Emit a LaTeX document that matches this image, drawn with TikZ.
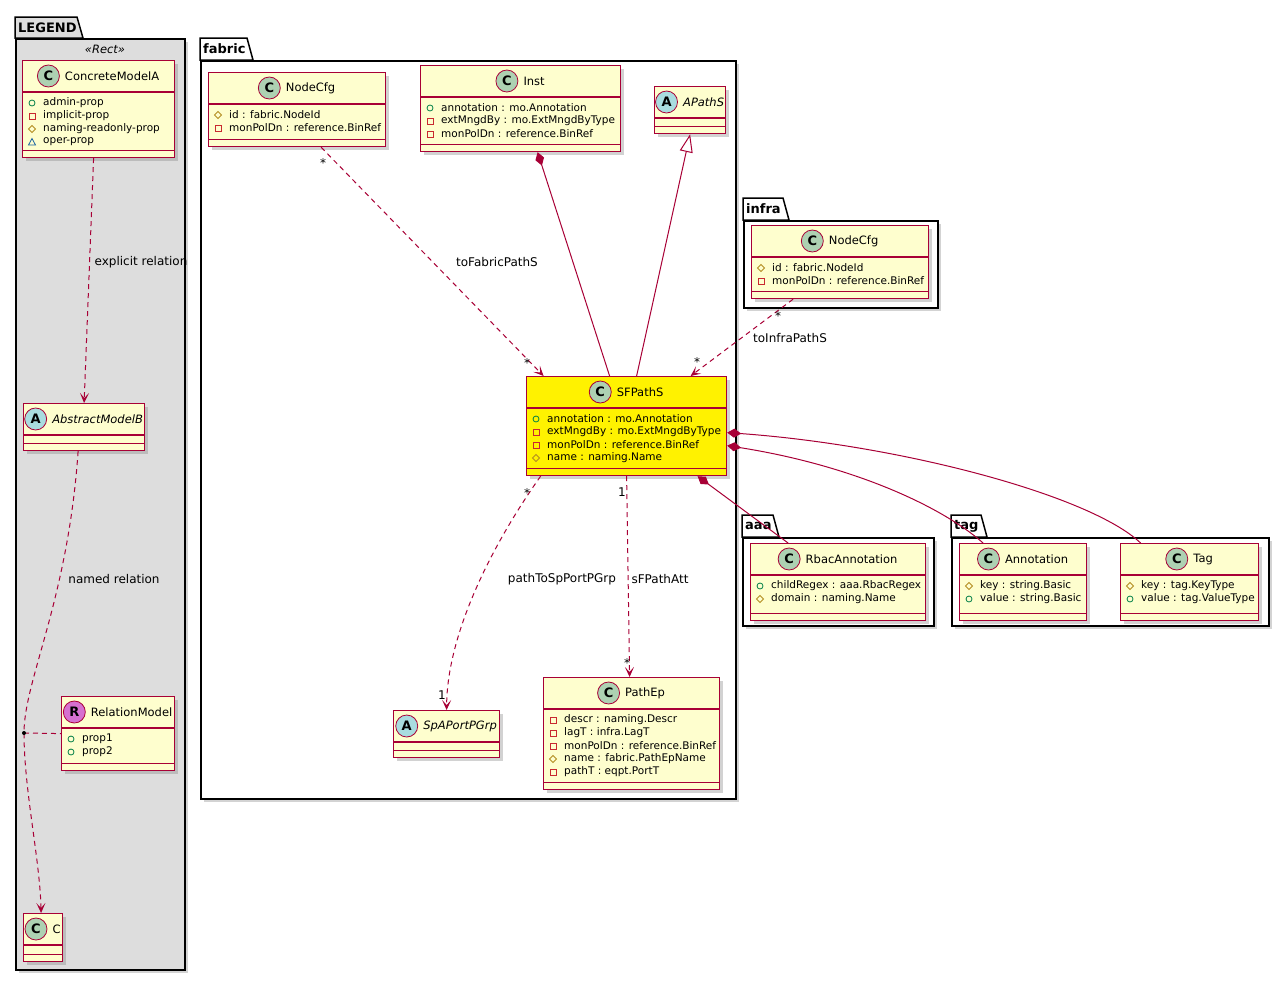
\documentclass[tikz,border=0pt]{standalone}
\usepackage{fontspec}
\setmainfont{DejaVu Sans}
\usetikzlibrary{arrows.meta}
\usetikzlibrary{shadows}
\usetikzlibrary{positioning}

\definecolor{umlred}{HTML}{A80036}
\definecolor{klassfill}{HTML}{FEFECE}
\definecolor{spotgreen}{HTML}{ADD1B2}
\definecolor{spotblue}{HTML}{A9DCDF}
\definecolor{spotpink}{HTML}{D670D0}
\definecolor{legendgray}{HTML}{DDDDDD}
\definecolor{pubcol}{HTML}{038048}
\definecolor{privcol}{HTML}{C82930}
\definecolor{protcol}{HTML}{B38D22}
\definecolor{pkgcol}{HTML}{1963A0}

% visibility marks
\newcommand\iconpub[1]{\draw[pubcol,line width=.8pt] (#1) circle (3pt);}
\newcommand\iconpriv[1]{\draw[privcol,line width=.8pt] ([shift={(-3pt,-3pt)}]#1) rectangle ([shift={(3pt,3pt)}]#1);}
\newcommand\iconprot[1]{\draw[protcol,line width=.8pt] ([xshift=-3.5pt]#1) -- ([yshift=3.5pt]#1) -- ([xshift=3.5pt]#1) -- ([yshift=-3.5pt]#1) -- cycle;}
\newcommand\iconpkg[1]{\draw[pkgcol,line width=.8pt] ([shift={(-3.5pt,-3pt)}]#1) -- ([yshift=3.5pt]#1) -- ([shift={(3.5pt,-3pt)}]#1) -- cycle;}

% class box: [opts]{name}{x}{y}{w}{h}{spot}{title}{attributes}
\newcommand\umlclass[9][]{%
  \node[klass,#1,minimum width=#5pt,minimum height=#6pt] (#2) at (#3,#4) {};
  \draw[klass line] ([yshift=-32pt]#2.north west) -- ([yshift=-32pt]#2.north east);
  \draw[klass line] ([yshift=8pt]#2.south west) -- ([yshift=8pt]#2.south east);
  \node[ktitle] (#2-t) at ([xshift=13.5pt,yshift=-16pt]#2.north) {#8};
  \node[spot,spot#7,left=5pt of #2-t] (#2-s) {#7};
  \foreach \vis/\txt [count=\row] in {#9}{
    \coordinate (#2-i\row) at ([xshift=10pt,yshift={-(30+13*\row)*1pt}]#2.north west);
    \ifcsname icon\vis\endcsname\csname icon\vis\endcsname{#2-i\row}\fi
    \node[attr] (#2-a\row) at ([xshift=21pt,yshift={-(30+13*\row)*1pt}]#2.north west) {\txt};
  }
}

% package: [opts]{name}{x}{tab top}{tab right}{body top}{x2}{y2}{label}
\newcommand\umlpkg[9][]{%
  \draw[pkg line,#1] (#3,#6) -- (#3,#4) -- (#5,#4) -- ({#5+6},#6) -- cycle;
  \node[pkg,#1,minimum width={(#7-#3)*1pt},minimum height={(#8-#6)*1pt}] (#2) at (#3,#6) {};
  \node[pkg label] (#2-l) at ({#3+3},{(#4+#6)/2}) {#9};
}

\begin{document}
\begin{tikzpicture}[x=1pt,y=-1pt]
\tikzstyle{klass}=[draw=umlred,line width=1.2pt,fill=klassfill,anchor=north west,inner sep=0pt,
  drop shadow={shadow xshift=3pt,shadow yshift=-3pt,opacity=.35}]
\tikzstyle{klass line}=[draw=umlred,line width=1.2pt]
\tikzstyle{ktitle}=[inner sep=0pt,font=\fontsize{11.5}{13}\selectfont]
\tikzstyle{spot}=[circle,draw=umlred,line width=.8pt,minimum size=22pt,inner sep=0pt,font=\bfseries\fontsize{13}{13}\selectfont]
\tikzstyle{spotC}=[fill=spotgreen]
\tikzstyle{spotA}=[fill=spotblue]
\tikzstyle{spotR}=[fill=spotpink]
\tikzstyle{attr}=[anchor=west,inner sep=0pt,font=\fontsize{10.5}{12}\selectfont]
\tikzstyle{pkg line}=[draw=black,line width=1.5pt,fill=white]
\tikzstyle{pkg}=[pkg line,anchor=north west,inner sep=0pt,drop shadow={shadow xshift=3pt,shadow yshift=-3pt,opacity=.35}]
\tikzstyle{pkg label}=[anchor=west,inner sep=0pt,font=\bfseries\fontsize{13}{14}\selectfont]
\tikzstyle{stereo}=[inner sep=0pt,font=\itshape\fontsize{11.5}{13}\selectfont]
\tikzstyle{dep}=[draw=umlred,line width=1pt,dash pattern=on 5pt off 4pt,-{Stealth[length=10pt,width=9pt,inset=5pt]}]
\tikzstyle{comp}=[draw=umlred,line width=1pt,{Diamond[length=14pt,width=9pt]}-]
\tikzstyle{inh}=[draw=umlred,line width=1pt,-{Triangle[open,length=18pt,width=13pt,fill=white]}]
\tikzstyle{lbl}=[inner sep=0pt,font=\fontsize{12}{14}\selectfont]
\tikzstyle{mult}=[lbl,anchor=base]

\useasboundingbox (0,0) rectangle (1287,980);

% packages
\umlpkg[fill=legendgray]{legend}{15}{17}{77}{38}{184}{969}{LEGEND}
\node[stereo] (legend-st) at (105,49) {«Rect»};
\umlpkg{fabric}{200}{38}{247}{60}{735}{798}{fabric}
\umlpkg{infra}{743}{198}{783}{220}{937}{307}{infra}
\umlpkg{aaa}{742}{515}{773}{537}{933}{625}{aaa}
\umlpkg{tag}{951}{515}{981}{537}{1268}{625}{tag}

% legend classes
\umlclass{cma}{22}{60}{152}{97}{C}{ConcreteModelA}{pub/admin-prop, priv/implicit-prop, prot/naming-readonly-prop, pkg/oper-prop}
\umlclass{amb}{23}{403}{121}{47}{A}{\itshape AbstractModelB}{}
\umlclass{relm}{61}{696}{113}{74}{R}{RelationModel}{pub/prop1, pub/prop2}
\umlclass{cc}{23}{913}{39}{48}{C}{C}{}

% fabric
\umlclass{cfgf}{208}{72}{177}{74}{C}{NodeCfg}{prot/id : fabric.NodeId, priv/monPolDn : reference.BinRef}
\umlclass{inst}{420}{65}{200}{86}{C}{Inst}{pub/annotation : mo.Annotation, priv/extMngdBy : mo.ExtMngdByType, priv/monPolDn : reference.BinRef}
\umlclass{aps}{654}{86}{71}{47}{A}{\itshape APathS}{}
\umlclass[fill=yellow]{sfp}{526}{376}{200}{99}{C}{SFPathS}{pub/annotation : mo.Annotation, priv/extMngdBy : mo.ExtMngdByType, priv/monPolDn : reference.BinRef, prot/name : naming.Name}
\umlclass{spg}{393}{710}{106}{47}{A}{\itshape SpAPortPGrp}{}
\umlclass{pep}{543}{677}{176}{112}{C}{PathEp}{priv/descr : naming.Descr, priv/lagT : infra.LagT, priv/monPolDn : reference.BinRef, prot/name : fabric.PathEpName, priv/pathT : eqpt.PortT}

% infra, aaa, tag
\umlclass{cfgi}{751}{225}{177}{73}{C}{NodeCfg}{prot/id : fabric.NodeId, priv/monPolDn : reference.BinRef}
\umlclass{rbac}{750}{543}{175}{77}{C}{RbacAnnotation}{pub/childRegex : aaa.RbacRegex, prot/domain : naming.Name}
\umlclass{annot}{959}{543}{127}{77}{C}{Annotation}{prot/key : string.Basic, pub/value : string.Basic}
\umlclass{tagc}{1120}{543}{138}{77}{C}{Tag}{prot/key : tag.KeyType, pub/value : tag.ValueType}

% legend relations
\coordinate (rdot) at (24,733);
\draw[dep] ([xshift=-5pt]cma.south) -- (amb.north);
\draw[dep] ([xshift=-6pt]amb.south) .. controls (68,600) and (24,680) .. (rdot) .. controls (24,790) and (40,860) .. ([xshift=-2pt]cc.north);
\draw[umlred,line width=1pt,dash pattern=on 5pt off 4pt] (rdot) -- (relm.west);
\fill (rdot) circle (2pt);

% relations
\draw[dep] ([xshift=24pt]cfgf.south) -- ([xshift=-83pt]sfp.north);
\draw[comp] ([xshift=17pt]inst.south) -- ([xshift=-17pt]sfp.north);
\draw[inh] ([xshift=10pt]sfp.north) -- (aps.south);
\draw[dep] ([xshift=-47pt]cfgi.south) -- ([xshift=64pt]sfp.north);
\draw[dep] ([xshift=-86pt]sfp.south) .. controls (485,555) and (447,640) .. (spg.north);
\draw[dep] (sfp.south) -- ([xshift=-2pt]pep.north);
\draw[comp] ([xshift=71pt]sfp.south) -- ([xshift=-50pt]rbac.north);
\draw[comp] ([yshift=-19.5pt]sfp.east) .. controls (850,465) and (940,505) .. ([xshift=-40pt]annot.north);
\draw[comp] ([yshift=-6.5pt]sfp.east) .. controls (900,445) and (1090,495) .. ([xshift=-49pt]tagc.north);

% labels
\foreach \x/\y/\t [count=\i] in {141/262/explicit relation, 114/579/named relation, 497/262/toFabricPathS,
  790/338/toInfraPathS, 562/579/pathToSpPortPGrp, 660/579/sFPathAtt}
  \node[lbl] (l\i) at (\x,\y) {\t};
\foreach \x/\y/\m [count=\i] in {323/167/*, 527/367/*, 778/320/*, 697/366/*, 527/497/*,
  442/699/1, 622/496/1, 627/667/*}
  \node[mult] (m\i) at (\x,\y) {\m};
\end{tikzpicture}
\end{document}
